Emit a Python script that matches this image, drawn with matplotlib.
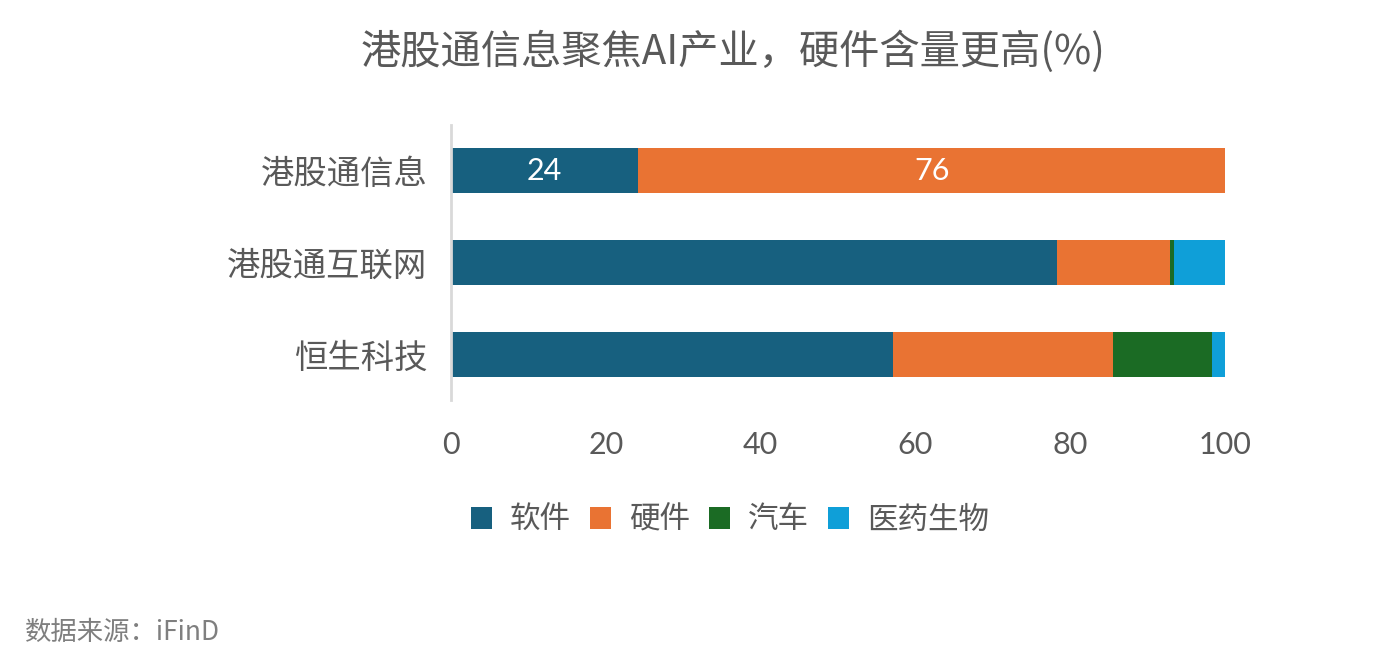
import matplotlib
matplotlib.use("Agg")
import matplotlib.pyplot as plt
from matplotlib.patches import Patch

plt.rcParams['font.family'] = ['Noto Sans CJK SC', 'DejaVu Sans']

categories = ["港股通信息", "港股通互联网", "恒生科技"]
series_names = ["软件", "硬件", "汽车", "医药生物"]
software = [24.2, 78.3, 57.1]
hardware = [75.8, 14.6, 28.4]
auto = [0.0, 0.5, 12.8]
biomed = [0.0, 6.6, 1.7]
bar_labels = {0: ["24", "76"]}
x_ticks = [0, 20, 40, 60, 80, 100]

colors = ["#17607f", "#e97333", "#1b6b24", "#0f9fd8"]
gray = "#595959"

fig = plt.figure(figsize=(13.94, 6.68), dpi=100)
ax = fig.add_axes([451/1394, 1-400/668, (1225-451)/1394, 275/668])

series = [software, hardware, auto, biomed]
ypos = list(range(len(categories)))
left = [0.0]*len(categories)
containers = []
for vals, col, name in zip(series, colors, series_names):
    c = ax.barh(ypos, vals, left=left, height=0.49, color=col, label=name)
    containers.append(c)
    left = [l + v for l, v in zip(left, vals)]

# data labels on first row
for si, txt in enumerate(bar_labels[0]):
    rect = containers[si][0]
    ax.text(rect.get_x() + rect.get_width()/2, rect.get_y() + rect.get_height()/2, txt,
            ha='center', va='center', color='white', fontsize=22, family=['Lato', 'DejaVu Sans'])

ax.set_ylim(2.5, -0.5)
ax.set_xlim(0, 100)
ax.set_yticks(ypos)
ax.set_yticklabels(categories, fontsize=24, color=gray)
ax.set_xticks(x_ticks)
ax.set_xticklabels([str(t) for t in x_ticks], fontsize=22, color=gray, family=['Lato', 'DejaVu Sans'])
ax.tick_params(axis='both', length=0)
ax.tick_params(axis='x', pad=22)
ax.tick_params(axis='y', pad=17)
for s in ['top', 'right', 'bottom']:
    ax.spines[s].set_visible(False)
ax.spines['left'].set_color('#d9d9d9')
ax.spines['left'].set_linewidth(2)

fig.text(733/1394, 1-52/668, "港股通信息聚焦AI产业，硬件含量更高(%)", ha='center', va='center',
         fontsize=29, color=gray)

handles = [Patch(facecolor=c, edgecolor='none') for c in colors]
fig.legend(handles, series_names, loc='center', bbox_to_anchor=(730/1394, 1-520/668),
           ncol=4, frameon=False, fontsize=22, handlelength=0.7, handleheight=0.7,
           handletextpad=0.6, columnspacing=0.6, labelcolor=gray)

fig.text(25/1394, 1-632/668, "数据来源：iFinD", ha='left', va='center', fontsize=19, color='#7f7f7f')

fig.savefig("out.png", dpi=100)
